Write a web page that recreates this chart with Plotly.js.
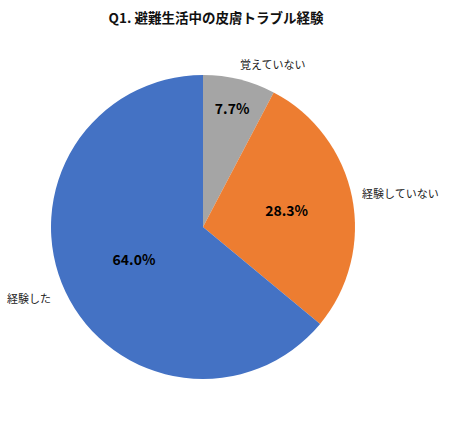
<!DOCTYPE html>
<html>
<head>
<meta charset="utf-8">
<script src="https://cdn.plot.ly/plotly-3.0.1.min.js"></script>
<style>
  html, body { margin: 0; padding: 0; background: #fff; }
  #chart { width: 450px; height: 424px; }
</style>
</head>
<body>
<div id="chart"></div>
<script>
// Q1 answers, clockwise from 12 o'clock
const answers = ["覚えていない", "経験していない", "経験した"];
const shares = [7.7, 28.3, 64.0];
const sliceColors = ["#A5A5A5", "#ED7D31", "#4472C4"];

const font = "'Noto Sans CJK JP', 'Noto Sans', sans-serif";

// outside category labels (paper coords, px)
const labelPos = [
  { x: 272, y: 64 },
  { x: 400, y: 193 },
  { x: 29, y: 298 },
];

const W = 450, H = 424;
const cx = 203, cy = 227, r = 152;

const trace = {
  type: "pie",
  labels: answers,
  values: shares,
  text: shares.map((v) => v.toFixed(1) + "%"),
  textinfo: "text",
  textposition: "inside",
  insidetextorientation: "horizontal",
  insidetextfont: { family: font, size: 14, color: "#000", weight: "bold" },
  sort: false,
  direction: "clockwise",
  rotation: 0,
  marker: { colors: sliceColors, line: { width: 0 } },
  domain: {
    x: [(cx - r) / W, (cx + r) / W],
    y: [(H - cy - r) / H, (H - cy + r) / H],
  },
  hoverinfo: "label+percent",
};

const annotations = answers.map((a, i) => ({
  text: a,
  xref: "paper",
  yref: "paper",
  x: labelPos[i].x / W,
  y: 1 - labelPos[i].y / H,
  xanchor: "center",
  yanchor: "middle",
  showarrow: false,
  font: { family: font, size: 11, color: "#222" },
}));

Plotly.newPlot(
  "chart",
  [trace],
  {
    width: W,
    height: H,
    margin: { l: 0, r: 0, t: 0, b: 0 },
    paper_bgcolor: "#fff",
    showlegend: false,
    title: {
      text: "<b>Q1. 避難生活中の皮膚トラブル経験</b>",
      x: 216 / W,
      xanchor: "center",
      y: 1 - 18 / H,
      yanchor: "middle",
      font: { family: font, size: 13.5, color: "#111" },
    },
    annotations,
  },
  { displayModeBar: false },
);
</script>
</body>
</html>
